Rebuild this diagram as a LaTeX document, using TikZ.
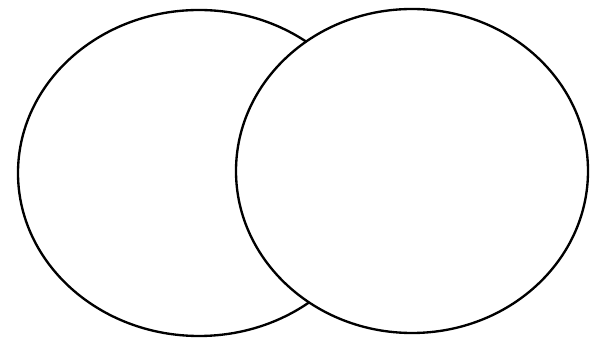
\documentclass[tikz,border=0pt]{standalone}
\usetikzlibrary{shapes.geometric}

\begin{document}
\begin{tikzpicture}[
  set/.style={ellipse, draw, fill=white, line width=2pt, inner sep=0pt}
]
\useasboundingbox (0,0) rectangle (17.7,10.17);

% --- sets (absolute placement for fidelity) ---
\node[set, minimum width=10.86cm, minimum height=9.78cm] (left)  at (5.97,4.98) {};
\node[set, minimum width=10.56cm, minimum height=9.72cm] (right) at (12.36,5.04) {};

\end{tikzpicture}
\end{document}
